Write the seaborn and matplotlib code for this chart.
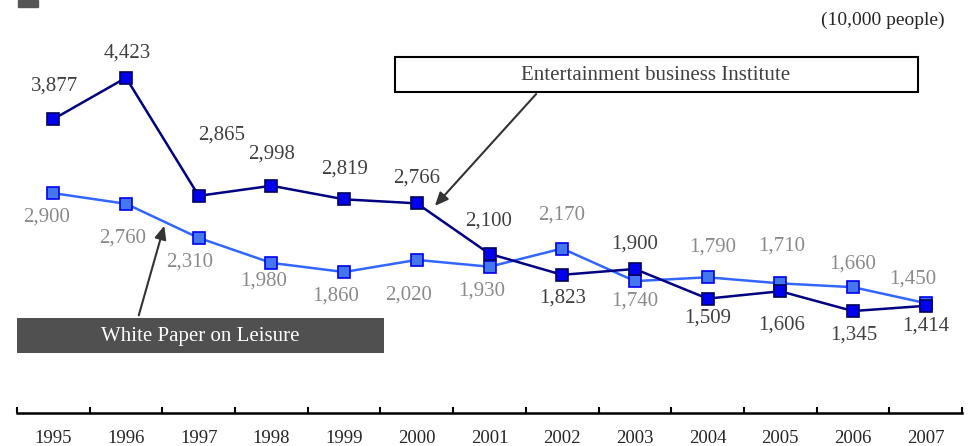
import pandas as pd
import seaborn as sns
import matplotlib.pyplot as plt
import numpy as np
from matplotlib.patches import Rectangle

# data
years = ['1995', '1996', '1997', '1998', '1999', '2000', '2001',
         '2002', '2003', '2004', '2005', '2006', '2007']
ebi = [3877, 4423, 2865, 2998, 2819, 2766, 2100, 1823, 1900, 1509, 1606, 1345, 1414]
wpl = [2900, 2760, 2310, 1980, 1860, 2020, 1930, 2170, 1740, 1790, 1710, 1660, 1450]

# label offsets in pixels (dx, dy)
ebi_off = [(1, 33), (1, 25), (23, 61), (0, 32), (0, 30), (0, 25), (-1, 33),
           (0, -23), (0, 25), (0, -19), (1, -34), (1, -24), (0, -20)]
wpl_off = [(-7, -24), (-3, -34), (-9, -24), (-8, -18), (-9, -24), (-8, -35), (-8, -24),
           (-1, 33), (0, -20), (5, 30), (1, 37), (0, 23), (-13, 24)]

sns.set_style('white')
plt.rcParams['font.family'] = ['Liberation Serif', 'DejaVu Serif']

W, H = 971, 446
fig = plt.figure(figsize=(W / 100, H / 100), dpi=100)
ax = fig.add_axes([17 / W, 1 - 413 / H, (962 - 17) / W, 379 / H])

df = pd.DataFrame({'x': np.arange(len(years)), 'ebi': ebi, 'wpl': wpl})

sns.lineplot(data=df, x='x', y='wpl', ax=ax, color='#3366ff', lw=1.8,
             marker='s', markersize=9, markerfacecolor='#4477ee',
             markeredgecolor='#0000ee', markeredgewidth=1.2, zorder=3)
sns.lineplot(data=df, x='x', y='ebi', ax=ax, color='#000080', lw=1.8,
             marker='s', markersize=9, markerfacecolor='#0000ee',
             markeredgecolor='#000060', markeredgewidth=1.2, zorder=4)

for i in range(len(years)):
    ax.annotate(f'{ebi[i]:,}', (i, ebi[i]), xytext=ebi_off[i], textcoords='offset pixels',
                ha='center', va='center', fontsize=15, color='#404040')
    ax.annotate(f'{wpl[i]:,}', (i, wpl[i]), xytext=wpl_off[i], textcoords='offset pixels',
                ha='center', va='center', fontsize=15, color='#8a8a8a')

ax.set_xlim(-0.5, len(years) - 0.5)
ax.set_ylim(0, 5000)
ax.set_xlabel('')
ax.set_ylabel('')
ax.set_yticks([])
ax.set_xticks(np.arange(len(years)))
ax.set_xticklabels(years, fontsize=13.5)
ax.set_xticks(np.arange(-0.5, len(years)), minor=True)
ax.tick_params(axis='x', which='major', bottom=True, length=0, pad=12.5)
ax.tick_params(axis='x', which='minor', bottom=True, length=4, width=1.5,
               direction='in', color='black')
for s in ['top', 'right', 'left']:
    ax.spines[s].set_visible(False)
ax.spines['bottom'].set_linewidth(1.8)
ax.spines['bottom'].set_color('black')


def fp(x, y):
    return (x, H - y)


# small corner block
fig.patches.append(Rectangle(fp(18, 7), 20, 7, transform=None, color='#555555'))

fig.text(945 / W, 1 - 20 / H, '(10,000 people)', ha='right', va='center', fontsize=14)

# Entertainment business Institute box
fig.patches.append(Rectangle(fp(395, 92), 523, 35, transform=None,
                             facecolor='white', edgecolor='black', lw=1.5))
fig.text(656 / W, 1 - 75 / H, 'Entertainment business Institute', ha='center', va='center',
         fontsize=15, color='#404040')
ax.annotate('', xy=fp(433, 208), xytext=fp(538, 92), xycoords='figure pixels',
            textcoords='figure pixels',
            arrowprops=dict(arrowstyle='-|>,head_length=0.8,head_width=0.35',
                            color='#333333', lw=1.5))

# White Paper on Leisure box
fig.patches.append(Rectangle(fp(17, 353), 367, 35, transform=None,
                             facecolor='#505050', edgecolor='none'))
fig.text(200 / W, 1 - 336 / H, 'White Paper on Leisure', ha='center', va='center',
         fontsize=15, color='white')
ax.annotate('', xy=fp(165, 223), xytext=fp(138, 318), xycoords='figure pixels',
            textcoords='figure pixels',
            arrowprops=dict(arrowstyle='-|>,head_length=0.8,head_width=0.35',
                            color='#333333', lw=1.5))

fig.savefig('out.png', dpi=100)
